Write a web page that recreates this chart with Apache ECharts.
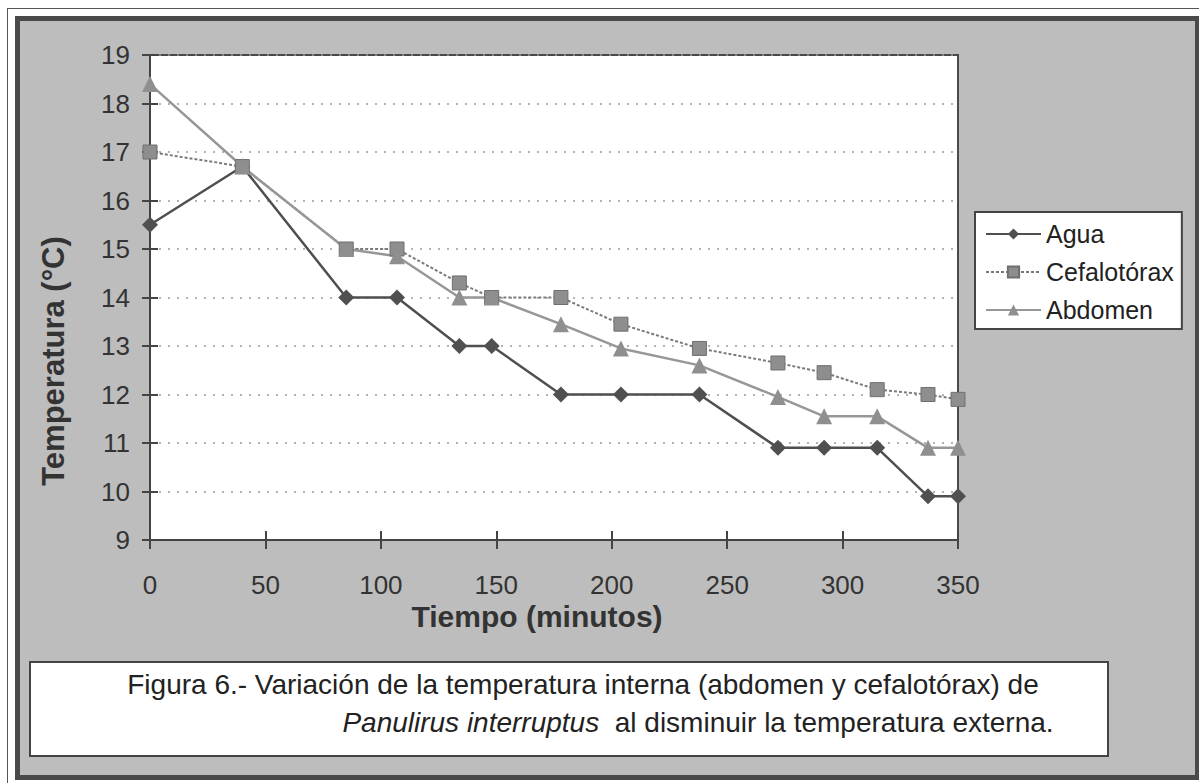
<!DOCTYPE html>
<html>
<head>
<meta charset="utf-8">
<script src="https://cdn.jsdelivr.net/npm/echarts@6/dist/echarts.min.js"></script>
<style>
  html, body { margin: 0; padding: 0; background: #fff; }
  .outer { position: absolute; left: 7px; top: 8px; width: 1200px; height: 790px; border: 1px solid #555; }
  .inner { position: absolute; left: 15px; top: 16px; width: 1175px; height: 754px; border: 5px solid #4a4a4a; background: #bdbdbd; }
  #chart { position: absolute; left: 0; top: 0; width: 1199px; height: 783px; }
</style>
</head>
<body>
<div class="outer"></div>
<div class="inner"></div>
<div id="chart"></div>
<script>
// tiempo (minutos) y temperaturas (°C)
const tiempo = [0, 40, 85, 107, 134, 148, 178, 204, 238, 272, 292, 315, 337, 350]
const agua = [15.5, 16.7, 14.0, 14.0, 13.0, 13.0, 12.0, 12.0, 12.0, 10.9, 10.9, 10.9, 9.9, 9.9]
const cefalotorax = [17.0, 16.7, 15.0, 15.0, 14.3, 14.0, 14.0, 13.45, 12.95, 12.65, 12.45, 12.1, 12.0, 11.9]
const abdomen = [18.4, 16.7, 15.0, 14.85, 14.0, 14.0, 13.45, 12.95, 12.6, 11.95, 11.55, 11.55, 10.9, 10.9]

const font = "'Liberation Sans', Arial, sans-serif"

function pairs(ys) {
  return tiempo.map((t, i) => [t, ys[i]])
}

const chart = echarts.init(document.getElementById('chart'), null, { renderer: 'svg' })

const option = {
  backgroundColor: 'transparent',
  animation: false,
  textStyle: { fontFamily: font },
  grid: {
    left: 150, right: 241, top: 55, bottom: 243,
    show: true, backgroundColor: '#fff', borderColor: '#4a4a4a', borderWidth: 2
  },
  xAxis: [
    {
      type: 'value', min: 0, max: 350, interval: 50,
      axisLine: { show: true, lineStyle: { color: '#444', width: 2 } },
      axisTick: { show: true, length: 9, lineStyle: { color: '#444', width: 2 } },
      axisLabel: { color: '#333', fontSize: 26, margin: 32 },
      splitLine: { show: false }
    },
    {
      type: 'value', min: 0, max: 350, interval: 50, position: 'bottom',
      axisLine: { show: false },
      axisTick: { show: true, inside: true, length: 9, lineStyle: { color: '#444', width: 2 } },
      axisLabel: { show: false },
      splitLine: { show: false }
    }
  ],
  yAxis: [
    {
      type: 'value', min: 9, max: 19, interval: 1,
      axisLine: { show: true, lineStyle: { color: '#444', width: 2 } },
      axisTick: { show: true, length: 8, lineStyle: { color: '#444', width: 2 } },
      axisLabel: { color: '#333', fontSize: 26, margin: 20 },
      splitLine: { show: true, lineStyle: { color: '#9a9a9a', width: 1.5, type: [2, 7] } }
    },
    {
      type: 'value', min: 9, max: 19, interval: 1, position: 'left',
      axisLine: { show: false },
      axisTick: { show: true, inside: true, length: 8, lineStyle: { color: '#444', width: 2 } },
      axisLabel: { show: false },
      splitLine: { show: false }
    }
  ],
  legend: {
    orient: 'vertical',
    left: 975, top: 212,
    backgroundColor: '#fff', borderColor: '#444', borderWidth: 2,
    padding: [9, 8, 6, 10],
    itemWidth: 55, itemHeight: 14, itemGap: 12,
    textStyle: { color: '#222', fontSize: 25, lineHeight: 26, fontFamily: font },
    data: ['Agua', 'Cefalotórax', 'Abdomen']
  },
  series: [
    {
      name: 'Agua', type: 'line', data: pairs(agua),
      symbol: 'diamond', symbolSize: 16,
      lineStyle: { color: '#4f4f4f', width: 2.5 },
      itemStyle: { color: '#505050' }
    },
    {
      name: 'Cefalotórax', type: 'line', data: pairs(cefalotorax),
      symbol: 'rect', symbolSize: 14,
      lineStyle: { color: '#7a7a7a', width: 2, type: [3, 2] },
      itemStyle: { color: '#8e8e8e', borderColor: '#6f6f6f', borderWidth: 1 }
    },
    {
      name: 'Abdomen', type: 'line', data: pairs(abdomen),
      symbol: 'triangle', symbolSize: 16,
      lineStyle: { color: '#979797', width: 2.5 },
      itemStyle: { color: '#8f8f8f' }
    }
  ],
  graphic: [
    {
      type: 'text', x: 53, y: 361, rotation: Math.PI / 2,
      style: { text: 'Temperatura (°C)', font: 'bold 31px ' + font, fill: '#333', align: 'center', verticalAlign: 'middle' }
    },
    {
      type: 'text', x: 537, y: 616,
      style: { text: 'Tiempo (minutos)', font: 'bold 30px ' + font, fill: '#333', align: 'center', verticalAlign: 'middle' }
    },
    {
      type: 'rect', shape: { x: 30, y: 662, width: 1078, height: 94 },
      style: { fill: '#fff', stroke: '#444', lineWidth: 2 }
    },
    {
      type: 'text', x: 583, y: 684,
      style: {
        text: 'Figura 6.- Variación de la temperatura interna (abdomen y cefalotórax) de',
        font: '28px ' + font, fill: '#222', align: 'center', verticalAlign: 'middle'
      }
    },
    {
      type: 'text', x: 698, y: 722,
      style: {
        text: '{i|Panulirus interruptus}  al disminuir la temperatura externa.',
        font: '28px ' + font, fill: '#222', align: 'center', verticalAlign: 'middle',
        rich: { i: { fontStyle: 'italic', fontSize: 28, fontFamily: font, fill: '#222' } }
      }
    }
  ]
}

chart.setOption(option)
</script>
</body>
</html>
